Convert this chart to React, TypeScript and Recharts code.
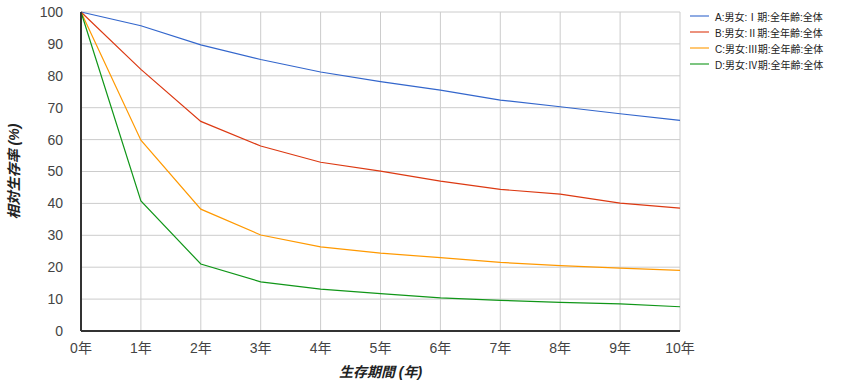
import { LineChart, Line, XAxis, YAxis, CartesianGrid } from 'recharts';

const years = [0, 1, 2, 3, 4, 5, 6, 7, 8, 9, 10];
const stageA = [100, 95.7, 89.7, 85.1, 81.2, 78.2, 75.5, 72.4, 70.3, 68.1, 66.0];
const stageB = [100, 82.0, 65.7, 58.0, 52.9, 50.1, 47.0, 44.4, 42.9, 40.1, 38.5];
const stageC = [100, 59.8, 38.2, 30.1, 26.4, 24.4, 23.0, 21.5, 20.5, 19.7, 19.0];
const stageD = [100, 40.8, 21.0, 15.4, 13.1, 11.7, 10.4, 9.6, 9.0, 8.5, 7.6];
const yTicks = [0, 10, 20, 30, 40, 50, 60, 70, 80, 90, 100];

const series = [
  { key: 'a', name: 'A:男女:Ⅰ期:全年齢:全体', color: '#3366cc' },
  { key: 'b', name: 'B:男女:Ⅱ期:全年齢:全体', color: '#dc3912' },
  { key: 'c', name: 'C:男女:Ⅲ期:全年齢:全体', color: '#ff9900' },
  { key: 'd', name: 'D:男女:Ⅳ期:全年齢:全体', color: '#109618' },
];

const data = years.map((y, i) => ({
  year: y,
  a: stageA[i],
  b: stageB[i],
  c: stageC[i],
  d: stageD[i],
}));

const FONT = '"Liberation Sans", Arial, "Noto Sans CJK JP", sans-serif';

// legend drawn outside recharts so it doesn't eat plot width
function LegendBox() {
  return (
    <div style={{ position: 'absolute', left: 690, top: 8, fontFamily: FONT, fontSize: 10, color: '#222' }}>
      {series.map((s) => (
        <div key={s.key} style={{ display: 'flex', alignItems: 'center', height: 16 }}>
          <span style={{ width: 19, height: 2, background: s.color, opacity: 0.55, marginRight: 6 }} />
          <span>{s.name}</span>
        </div>
      ))}
    </div>
  );
}

export default function App() {
  return (
    <div style={{ position: 'absolute', left: 0, top: 0, width: 846, height: 387, background: '#fff' }}>
      <LineChart width={846} height={387} data={data} margin={{ top: 12, right: 166, left: 0, bottom: 0 }}>
        <CartesianGrid stroke="#cccccc" />
        <XAxis
          dataKey="year"
          type="number"
          domain={[0, 10]}
          ticks={years}
          tickFormatter={(v) => `${v}年`}
          tick={{ fill: '#444', fontSize: 14, fontFamily: FONT }}
          tickLine={false}
          axisLine={{ stroke: '#333', strokeWidth: 2 }}
          height={56}
          tickMargin={6}
          label={{ value: '生存期間 (年)', position: 'insideBottom', offset: 10, fill: '#222', fontSize: 14, fontStyle: 'italic', fontWeight: 'bold', fontFamily: FONT }}
        />
        <YAxis
          type="number"
          domain={[0, 100]}
          ticks={yTicks}
          tick={{ fill: '#444', fontSize: 14, fontFamily: FONT }}
          tickLine={false}
          axisLine={{ stroke: '#333', strokeWidth: 2 }}
          width={81}
          tickMargin={12}
          label={{ value: '相対生存率 (%)', angle: -90, position: 'insideLeft', offset: 14, fill: '#222', fontSize: 14, fontStyle: 'italic', fontWeight: 'bold', fontFamily: FONT, style: { textAnchor: 'middle' } }}
        />
        {series.map((s) => (
          <Line
            key={s.key}
            dataKey={s.key}
            name={s.name}
            stroke={s.color}
            strokeWidth={1.2}
            dot={false}
            type="linear"
            isAnimationActive={false}
          />
        ))}
      </LineChart>
      <LegendBox />
    </div>
  );
}
